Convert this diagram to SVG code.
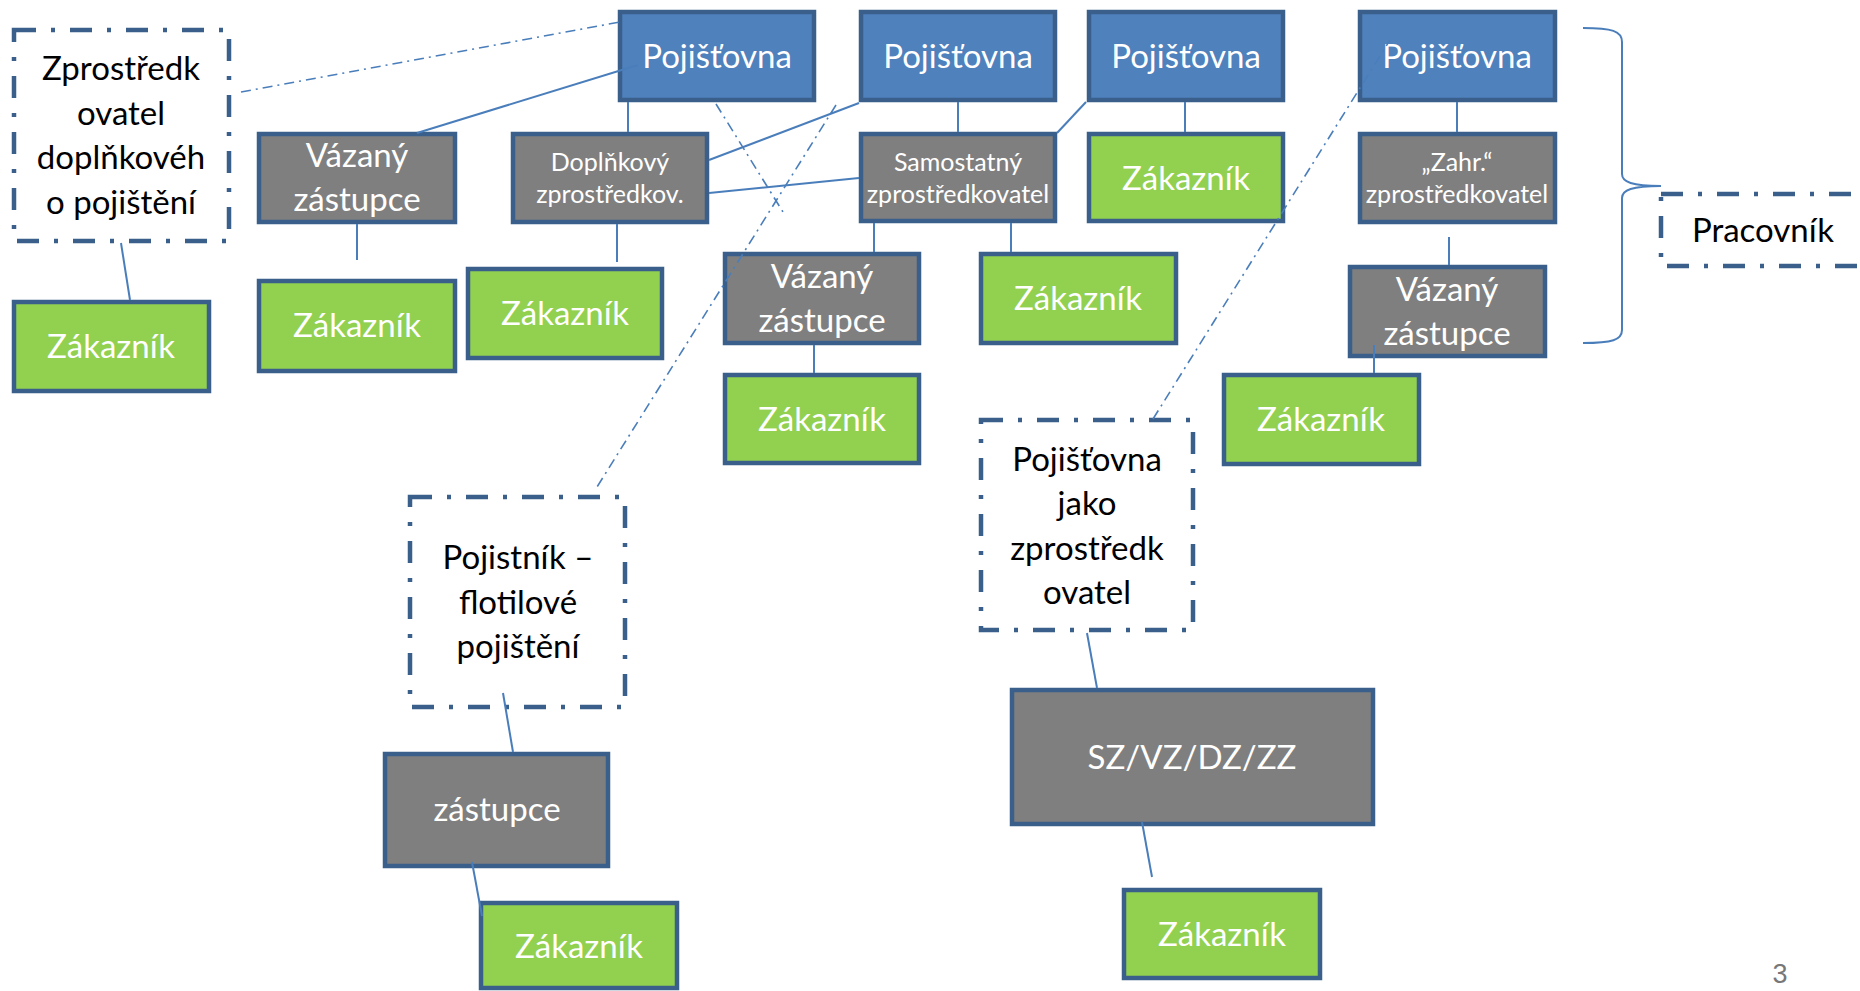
<svg xmlns="http://www.w3.org/2000/svg" width="1860" height="991" viewBox="0 0 1860 991">
<style>
.box{stroke:#3A5F8B;stroke-width:4.5}
.blue{fill:#4F81BD}
.gray{fill:#7F7F7F}
.green{fill:#92D050}
.dash{fill:none;stroke:#3A5F8B;stroke-width:4.5;stroke-dasharray:22 15 4 15}
.t{font-family:Lato,"Open Sans",sans-serif;font-size:33px;text-anchor:middle}
.s{font-family:Lato,"Open Sans",sans-serif;font-size:25px;text-anchor:middle;fill:#fff}
.w{fill:#fff}
.k{fill:#000}
.c{stroke:#4A7EBB;stroke-width:2;fill:none}
.d{stroke:#4A7EBB;stroke-width:1.6;fill:none;stroke-dasharray:10 5 2 5}
</style>
<rect width="1860" height="991" fill="#fff"/>
<g id="n-zprostredkovatel-doplnkoveho">
<rect class="dash" x="14" y="30" width="215" height="211"/>
<text class="t k" x="121" y="80">Zprostředk</text>
<text class="t k" x="121" y="125">ovatel</text>
<text class="t k" x="121" y="169">doplňkovéh</text>
<text class="t k" x="121" y="214">o pojištění</text>
</g>
<g id="n-pojistovna1"><rect class="box blue" x="620" y="12" width="194" height="88"/><text class="t w" x="717" y="68">Pojišťovna</text></g>
<g id="n-pojistovna2"><rect class="box blue" x="861" y="12" width="194" height="88"/><text class="t w" x="958" y="68">Pojišťovna</text></g>
<g id="n-pojistovna3"><rect class="box blue" x="1089" y="12" width="194" height="88"/><text class="t w" x="1186" y="68">Pojišťovna</text></g>
<g id="n-pojistovna4"><rect class="box blue" x="1360" y="12" width="195" height="88"/><text class="t w" x="1457" y="68">Pojišťovna</text></g>
<g id="n-vazany1"><rect class="box gray" x="259" y="134" width="196" height="88"/><text class="t w" x="357" y="167">Vázaný</text><text class="t w" x="357" y="211">zástupce</text></g>
<g id="n-doplnkovy"><rect class="box gray" x="513" y="134" width="194" height="88"/><text class="s" x="610" y="171">Doplňkový</text><text class="s" x="610" y="203">zprostředkov.</text></g>
<g id="n-samostatny"><rect class="box gray" x="861" y="134" width="194" height="87"/><text class="s" x="958" y="171">Samostatný</text><text class="s" x="958" y="203">zprostředkovatel</text></g>
<g id="n-zakaznik-p3"><rect class="box green" x="1089" y="134" width="194" height="87"/><text class="t w" x="1186" y="190">Zákazník</text></g>
<g id="n-zahr"><rect class="box gray" x="1360" y="134" width="195" height="88"/><text class="s" x="1457" y="171">„Zahr.“</text><text class="s" x="1457" y="203">zprostředkovatel</text></g>
<g id="n-zakaznik-left"><rect class="box green" x="14" y="302" width="195" height="89"/><text class="t w" x="111" y="358">Zákazník</text></g>
<g id="n-zakaznik-vz1"><rect class="box green" x="259" y="281" width="196" height="90"/><text class="t w" x="357" y="337">Zákazník</text></g>
<g id="n-zakaznik-dopl"><rect class="box green" x="468" y="269" width="194" height="89"/><text class="t w" x="565" y="325">Zákazník</text></g>
<g id="n-vazany2"><rect class="box gray" x="725" y="254" width="194" height="89"/><text class="t w" x="822" y="288">Vázaný</text><text class="t w" x="822" y="332">zástupce</text></g>
<g id="n-zakaznik-sam"><rect class="box green" x="981" y="254" width="195" height="89"/><text class="t w" x="1078" y="310">Zákazník</text></g>
<g id="n-vazany3"><rect class="box gray" x="1350" y="267" width="195" height="89"/><text class="t w" x="1447" y="301">Vázaný</text><text class="t w" x="1447" y="345">zástupce</text></g>
<g id="n-zakaznik-vz2"><rect class="box green" x="725" y="375" width="194" height="88"/><text class="t w" x="822" y="431">Zákazník</text></g>
<g id="n-zakaznik-vz3"><rect class="box green" x="1224" y="375" width="195" height="89"/><text class="t w" x="1321" y="431">Zákazník</text></g>
<g id="n-pracovnik"><rect class="dash" x="1661" y="194" width="230" height="72"/><text class="t k" x="1763" y="242">Pracovník</text></g>
<g id="n-pojistovna-jako">
<rect class="dash" x="981" y="420" width="212" height="210"/>
<text class="t k" x="1087" y="471">Pojišťovna</text>
<text class="t k" x="1087" y="515">jako</text>
<text class="t k" x="1087" y="560">zprostředk</text>
<text class="t k" x="1087" y="604">ovatel</text>
</g>
<g id="n-pojistnik">
<rect class="dash" x="410" y="497" width="215" height="210"/>
<text class="t k" x="518" y="569">Pojistník –</text>
<text class="t k" x="518" y="614">flotilové</text>
<text class="t k" x="518" y="658">pojištění</text>
</g>
<g id="n-zastupce"><rect class="box gray" x="385" y="754" width="223" height="112"/><text class="t w" x="497" y="821">zástupce</text></g>
<g id="n-zakaznik-zast"><rect class="box green" x="481" y="903" width="196" height="85"/><text class="t w" x="579" y="958">Zákazník</text></g>
<g id="n-sz"><rect class="box gray" x="1012" y="690" width="361" height="134"/><text class="t w" x="1192" y="769">SZ/VZ/DZ/ZZ</text></g>
<g id="n-zakaznik-sz"><rect class="box green" x="1124" y="890" width="196" height="88"/><text class="t w" x="1222" y="946">Zákazník</text></g>
<g id="connectors">
<line class="c" x1="121" y1="243" x2="130" y2="300"/>
<line class="c" x1="357" y1="224" x2="357" y2="260"/>
<line class="c" x1="417" y1="133" x2="638" y2="65"/>
<line class="c" x1="628" y1="102" x2="628" y2="132"/>
<line class="c" x1="709" y1="160" x2="859" y2="103"/>
<line class="c" x1="709" y1="193" x2="859" y2="178"/>
<line class="c" x1="617" y1="224" x2="617" y2="262"/>
<line class="c" x1="958" y1="102" x2="958" y2="132"/>
<line class="c" x1="1086" y1="102" x2="1057" y2="133"/>
<line class="c" x1="1185" y1="102" x2="1185" y2="132"/>
<line class="c" x1="874" y1="223" x2="874" y2="252"/>
<line class="c" x1="1011" y1="223" x2="1011" y2="252"/>
<line class="c" x1="814" y1="345" x2="814" y2="373"/>
<line class="c" x1="1457" y1="102" x2="1457" y2="132"/>
<line class="c" x1="1449" y1="237" x2="1449" y2="265"/>
<line class="c" x1="1374" y1="345" x2="1374" y2="373"/>
<line class="c" x1="503" y1="693" x2="513" y2="752"/>
<line class="c" x1="472" y1="862" x2="482" y2="916"/>
<line class="c" x1="1087" y1="633" x2="1097" y2="688"/>
<line class="c" x1="1142" y1="822" x2="1152" y2="877"/>
<line class="d" x1="241" y1="92" x2="620" y2="22"/>
<line class="d" x1="716" y1="104" x2="783" y2="212"/>
<line class="d" x1="836" y1="105" x2="597" y2="487"/>
<line class="d" x1="1153" y1="419" x2="1390" y2="40"/>
<path class="c" d="M1583,28 C1612,28 1622,31 1622,42 L1622,174 C1622,182 1632,186 1661,186 C1632,186 1622,190 1622,198 L1622,330 C1622,340 1612,343 1583,343"/>
</g>
<text x="1780" y="983" font-family="Liberation Sans,Arial,sans-serif" font-size="27" fill="#777" text-anchor="middle">3</text>
</svg>
